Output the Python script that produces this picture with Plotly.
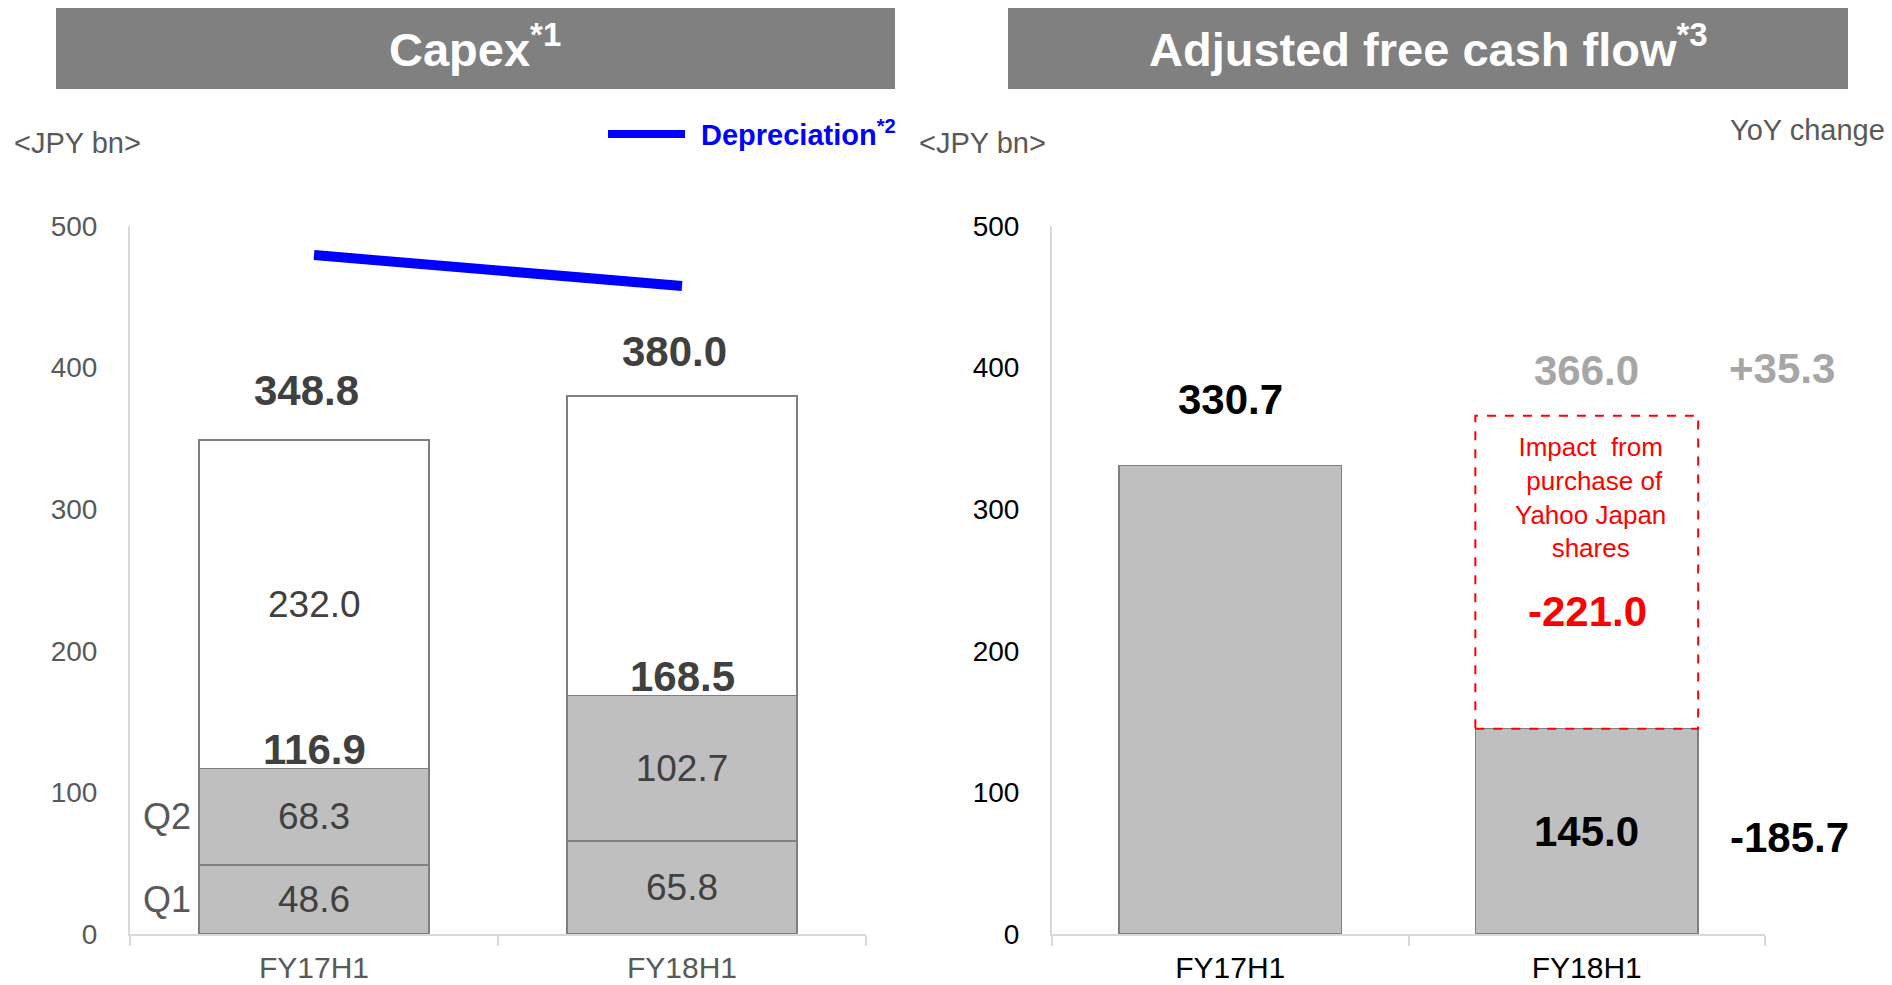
import plotly.graph_objects as go

# ---------------- data ----------------
periods = ["FY17H1", "FY18H1"]
capex_q1 = [48.6, 65.8]
capex_q2 = [68.3, 102.7]
capex_h1 = [116.9, 168.5]
capex_total = [348.8, 380.0]
capex_rest_label = "232.0"
depreciation = [479.5, 457.6]

fcf_actual = [330.7, 145.0]
fcf_adjusted = 366.0
yahoo_impact = -221.0
yoy_reported = -185.7
yoy_adjusted = 35.3

y_ticks = [0, 100, 200, 300, 400, 500]

# ---------------- styling ----------------
PAGE_W, PAGE_H = 1892, 985
OFF = 8  # default body margin of the html page
W, H = PAGE_W - OFF, PAGE_H - OFF
FONT = "Liberation Sans, Arial, sans-serif"
GRAY_FILL = "#BFBFBF"
EDGE = "#7F7F7F"
DARK = "#404040"
AXIS = "#D9D9D9"
BLUE = "#0000FF"
RED = "#FF0000"
LIGHT = "#A6A6A6"
BAR_W = 0.625

def px(x):
    return (x - OFF) / W

def py(y):
    return 1 - (y - OFF) / H

ydom = [py(934), py(226)]

fig = go.Figure()

capex_rest = [t - h for t, h in zip(capex_total, capex_h1)]

seg_common = dict(xaxis="x", yaxis="y", textposition="inside", insidetextanchor="middle",
                  textangle=0, showlegend=False, hoverinfo="skip")
fig.add_trace(go.Bar(x=periods, y=capex_q1, text=[f"{v:.1f}" for v in capex_q1],
                     marker=dict(color=GRAY_FILL, line=dict(color=EDGE, width=1.5)),
                     textfont=dict(size=37, color=DARK, family=FONT), **seg_common))
fig.add_trace(go.Bar(x=periods, y=capex_q2, text=[f"{v:.1f}" for v in capex_q2],
                     marker=dict(color=GRAY_FILL, line=dict(color=EDGE, width=1.5)),
                     textfont=dict(size=37, color=DARK, family=FONT), **seg_common))
fig.add_trace(go.Bar(x=periods, y=capex_rest, xaxis="x", yaxis="y",
                     marker=dict(color="white", line=dict(color=EDGE, width=1.5)),
                     showlegend=False, hoverinfo="skip"))
fig.add_trace(go.Scatter(x=periods, y=depreciation, mode="lines", xaxis="x", yaxis="y",
                         line=dict(color=BLUE, width=10), showlegend=False, hoverinfo="skip"))

# right chart
fig.add_trace(go.Bar(x=periods, y=fcf_actual, xaxis="x2", yaxis="y2",
                     marker=dict(color=GRAY_FILL, line=dict(color=EDGE, width=1.5)),
                     showlegend=False, hoverinfo="skip"))

shapes = []
# dashed box for Yahoo Japan impact
shapes.append(dict(type="rect", xref="x2", yref="y2", x0=1 - BAR_W / 2, x1=1 + BAR_W / 2,
                   y0=fcf_actual[1], y1=fcf_adjusted,
                   line=dict(color=RED, width=2, dash="dash"), fillcolor="rgba(0,0,0,0)"))
# title boxes
shapes.append(dict(type="rect", xref="paper", yref="paper", x0=px(56), x1=px(895),
                   y0=py(89), y1=py(7), fillcolor="#808080", line=dict(width=0), layer="below"))
shapes.append(dict(type="rect", xref="paper", yref="paper", x0=px(1008), x1=px(1848),
                   y0=py(89), y1=py(7), fillcolor="#808080", line=dict(width=0), layer="below"))
# legend key for depreciation
shapes.append(dict(type="line", xref="paper", yref="paper", x0=px(608), x1=px(685),
                   y0=py(134), y1=py(134), line=dict(color=BLUE, width=8)))

ann = []
def A(text, x, y, size, color, xanchor="center", yanchor="middle", xref="paper", yref="paper",
      yshift=0, xshift=0, **kw):
    ann.append(dict(text=text, x=x, y=y, xref=xref, yref=yref, showarrow=False,
                    xanchor=xanchor, yanchor=yanchor, yshift=yshift, xshift=xshift,
                    font=dict(size=size, color=color, family=FONT), **kw))

A("<b>Capex<sup>*1</sup></b>", px(475), py(46), 47, "white")
A("<b>Adjusted free cash flow<sup>*3</sup></b>", px(1428), py(46), 47, "white")
A("&lt;JPY bn&gt;", px(12), py(143), 29, "#595959", xanchor="left")
A("&lt;JPY bn&gt;", px(917), py(143), 29, "#595959", xanchor="left")
A("YoY change", px(1887), py(130), 29, "#595959", xanchor="right")
A("<b>Depreciation<sup>*2</sup></b>", px(699), py(133), 29, BLUE, xanchor="left")

# capex labels
for i, p in enumerate(periods):
    A(f"<b>{capex_total[i]:.1f}</b>", p, capex_total[i], 42, DARK, xref="x", yref="y",
      yshift=[50, 44][i], xshift=-8)
    A(f"<b>{capex_h1[i]:.1f}</b>", p, capex_h1[i], 42, DARK, xref="x", yref="y", yshift=19)
A(capex_rest_label, periods[0], (capex_h1[0] + capex_total[0]) / 2, 37, DARK, xref="x", yref="y")
A("Q1", -BAR_W / 2, capex_q1[0] / 2, 36, "#595959", xanchor="right", xref="x", yref="y", xshift=-6)
A("Q2", -BAR_W / 2, capex_q1[0] + capex_q2[0] / 2, 36, "#595959", xanchor="right",
  xref="x", yref="y", xshift=-6)

# fcf labels
A(f"<b>{fcf_actual[0]:.1f}</b>", periods[0], fcf_actual[0], 42, "black", xref="x2", yref="y2",
  yshift=66)
A(f"<b>{fcf_actual[1]:.1f}</b>", periods[1], fcf_actual[1] / 2, 42, "black", xref="x2", yref="y2")
A(f"<b>{fcf_adjusted:.1f}</b>", periods[1], fcf_adjusted, 42, LIGHT, xref="x2", yref="y2",
  yshift=45)
A(f"<b>+{yoy_adjusted:.1f}</b>", px(1782), py(368), 42, LIGHT)
A(f"<b>{yoy_reported:.1f}</b>", px(1789), py(837), 42, "black")
A("Impact  from<br> purchase of<br>Yahoo Japan<br>shares", px(1590), py(498), 26, RED)
A(f"<b>{yahoo_impact:.1f}</b>", px(1587), py(611), 42, RED)

xcommon = dict(type="category", range=[-0.5, 1.5], showline=True, linecolor=AXIS, linewidth=2,
               ticks="outside", tickson="boundaries", ticklen=10, tickcolor=AXIS, tickwidth=2,
               showgrid=False, zeroline=False, ticklabelstandoff=6, automargin=False)
ycommon = dict(range=[0, 500], tickvals=y_ticks, showline=True, linecolor=AXIS, linewidth=2,
               showgrid=False, zeroline=False, ticks="", ticklabelstandoff=25, domain=ydom,
               automargin=False)

fig.update_layout(
    width=W, height=H, margin=dict(l=0, r=0, t=0, b=0, pad=0, autoexpand=False),
    paper_bgcolor="white", plot_bgcolor="white",
    barmode="stack", bargap=1 - BAR_W,
    font=dict(family=FONT),
    xaxis=dict(domain=[px(130), px(866)], anchor="y",
               tickfont=dict(size=30, color="#595959", family=FONT), **xcommon),
    yaxis=dict(anchor="x", tickfont=dict(size=28, color="#595959", family=FONT), **ycommon),
    xaxis2=dict(domain=[px(1052), px(1765)], anchor="y2",
                tickfont=dict(size=30, color="black", family=FONT), **xcommon),
    yaxis2=dict(anchor="x2", tickfont=dict(size=28, color="black", family=FONT), **ycommon),
    shapes=shapes, annotations=ann,
)

fig.write_html("out.html")
